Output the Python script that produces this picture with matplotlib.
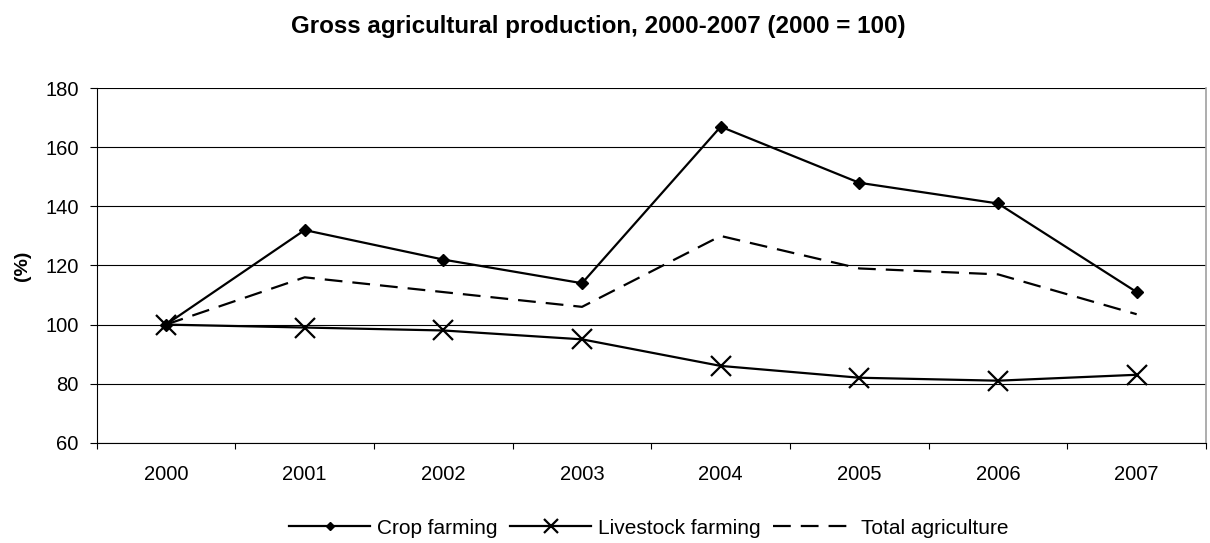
import numpy as np
import matplotlib
matplotlib.use('Agg')
from matplotlib import pyplot as plt

plt.rcParams['font.family'] = ['Liberation Sans', 'DejaVu Sans']

years = ['2000', '2001', '2002', '2003', '2004', '2005', '2006', '2007']
crop = [100, 132, 122, 114, 167, 148, 141, 111]
livestock = [100, 99, 98, 95, 86, 82, 81, 83]
total = [100, 116, 111, 106, 130, 119, 117, 103.5]

x = np.arange(len(years))

fig = plt.figure(figsize=(12.1, 5.43), dpi=100)
ax = fig.add_axes([0.0799, 0.1847, 0.9168, 0.6527])

ax.plot(x, crop, color='black', lw=1.6, marker='D', markersize=6.5, label='Crop farming')
ax.plot(x, livestock, color='black', lw=1.6, marker='x', markersize=14, markeredgewidth=1.6,
        label='Livestock farming')
ax.plot(x, total, color='black', lw=1.6, linestyle=(0, (8, 4.5)), label='Total agriculture')

ax.set_ylim(60, 180)
ax.set_yticks(range(60, 181, 20))
ax.set_xlim(-0.5, len(years) - 0.5)
ax.set_xticks(np.arange(-0.5, len(years), 1))
ax.set_xticklabels([])
ax.set_xticks(x, minor=True)
ax.set_xticklabels(years, minor=True)
ax.tick_params(axis='x', which='minor', length=0, pad=16, labelsize=14.5)
ax.tick_params(axis='x', which='major', length=4.5, direction='out', width=0.8)
ax.tick_params(axis='y', length=5, direction='out', labelsize=14.5, width=0.8, pad=8)

ax.grid(axis='y', color='black', lw=0.8)
ax.set_axisbelow(True)
ax.spines['top'].set_visible(False)
ax.spines['right'].set_color('#a0a0a0')
ax.spines['right'].set_linewidth(1.2)
for s in ['left', 'bottom']:
    ax.spines[s].set_linewidth(0.8)

fig.text(23 / 1210, 0.5 * (0.1847 + 0.8374), '(%)', rotation=90, ha='center', va='center',
         fontsize=14, fontweight='bold')
fig.text(598 / 1210, 1 - 33 / 543, 'Gross agricultural production, 2000-2007 (2000 = 100)',
         ha='center', va='baseline', fontsize=17.4, fontweight='bold')

fig.legend(loc='center left', bbox_to_anchor=(289 / 1210, 15 / 543), ncol=3, frameon=False,
           fontsize=15, handlelength=3.9, columnspacing=0.6, handletextpad=0.32,
           borderpad=0, borderaxespad=0, markerscale=0.7)

fig.savefig('out.png', dpi=100)
